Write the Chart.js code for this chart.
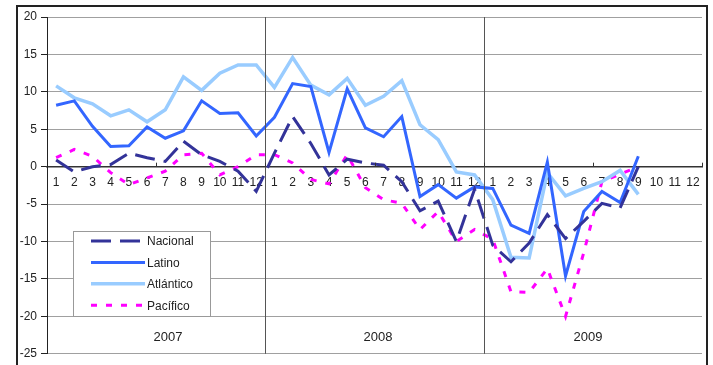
<!DOCTYPE html>
<html>
<head>
<meta charset="utf-8">
<script src="https://cdn.jsdelivr.net/npm/chart.js@4"></script>
<style>
  body { margin: 0; background: #ffffff; }
  #wrap { width: 713px; height: 365px; }
</style>
</head>
<body>
<div id="wrap"><canvas id="idChart" width="713" height="365"></canvas></div>
<script>
// Meses de cada año (eje X) y años del segundo nivel
var aMeses = ["1", "2", "3", "4", "5", "6", "7", "8", "9", "10", "11", "12"];
var aAnios = ["2007", "2008", "2009"];

// Variación por región, 2007-2009 (sep 2009 último dato)
var aNacional = [0.9, -0.7, 0.0, 0.3, 1.8, 1.2, 0.7, 3.4, 1.6, 0.7, -0.6, -3.3,
                 1.8, 6.7, 3.1, -1.1, 1.0, 0.5, 0.2, -2.0, -5.9, -4.6, -10.0, -3.0,
                 -10.5, -12.7, -10.2, -6.4, -9.6, -7.3, -4.9, -5.5, 0.0, null, null, null];
var aLatino = [8.2, 8.8, 5.4, 2.7, 2.8, 5.3, 3.8, 4.8, 8.8, 7.1, 7.2, 4.1,
               6.6, 11.1, 10.7, 1.9, 10.4, 5.2, 4.0, 6.7, -4.0, -2.4, -4.2, -2.7,
               -2.9, -7.8, -8.9, 0.6, -14.6, -6.0, -3.3, -4.8, 1.4, null, null, null];
var aAtlantico = [10.8, 9.2, 8.4, 6.8, 7.6, 6.0, 7.6, 12.0, 10.2, 12.5, 13.6, 13.6,
                  10.6, 14.6, 10.9, 9.6, 11.8, 8.2, 9.4, 11.5, 5.6, 3.6, -0.7, -1.1,
                  -4.4, -12.1, -12.2, -0.8, -3.9, -2.9, -2.0, -0.5, -3.7, null, null, null];
var aPacifico = [1.2, 2.3, 1.4, -0.8, -2.4, -1.5, -0.6, 1.6, 1.8, -1.1, 0.0, 1.6,
                 1.6, 0.5, -1.7, -2.3, 1.6, -2.8, -4.4, -4.9, -8.4, -6.0, -10.0, -8.4,
                 -9.7, -16.7, -16.8, -13.6, -20.0, -11.5, -2.0, -1.0, 0.0, null, null, null];

var aLabels = [];
aAnios.forEach(function () { aLabels = aLabels.concat(aMeses); });

var sFont = "'Liberation Sans', Arial, sans-serif";

var aSeries = [
    { label: "Nacional", data: aNacional, color: "#333399", dash: [20, 9], width: 3 },
    { label: "Latino", data: aLatino, color: "#3366FF", dash: [], width: 3 },
    { label: "Atlántico", data: aAtlantico, color: "#99CCFF", dash: [], width: 3.5 },
    { label: "Pacífico", data: aPacifico, color: "#FF00FF", dash: [6, 9], width: 3 }
];

// Marco, separadores de año, nombres de año y leyenda
var extrasPlugin = {
    id: "extras",
    beforeDraw: function (chart) {
        var ctx = chart.ctx;
        ctx.save();
        ctx.fillStyle = "#ffffff";
        ctx.fillRect(0, 0, chart.width, chart.height);
        ctx.restore();
    },
    afterDatasetsDraw: function (chart) {
        var ctx = chart.ctx;
        var x = chart.scales.x;
        var y = chart.scales.y;
        var area = chart.chartArea;
        var nMes = aMeses.length;
        var i;

        ctx.save();
        // lineas verticales entre años
        ctx.strokeStyle = "#555555";
        ctx.lineWidth = 1;
        for (i = 1; i < aAnios.length; i++) {
            var xs = Math.round((x.getPixelForTick(i * nMes - 1) + x.getPixelForTick(i * nMes)) / 2) + 0.5;
            ctx.beginPath();
            ctx.moveTo(xs, area.top);
            ctx.lineTo(xs, area.bottom);
            ctx.stroke();
        }

        // marcas cada seis meses sobre el eje
        var y0 = y.getPixelForValue(0);
        var half = (x.getPixelForTick(1) - x.getPixelForTick(0)) / 2;
        ctx.strokeStyle = "#333333";
        for (i = 6; i <= aLabels.length; i += 6) {
            var xt = Math.round(x.getPixelForTick(i - 1) + half) + 0.5;
            ctx.beginPath();
            ctx.moveTo(xt, y0 - 4);
            ctx.lineTo(xt, y0);
            ctx.stroke();
        }

        // nombres de los años (algo corridos respecto al centro de cada año)
        ctx.fillStyle = "#222222";
        ctx.font = "13px " + sFont;
        ctx.textAlign = "center";
        ctx.textBaseline = "middle";
        for (i = 0; i < aAnios.length; i++) {
            var xc = area.left + 121 + i * 210;
            ctx.fillText(aAnios[i], xc, 337);
        }

        // leyenda
        ctx.fillStyle = "#ffffff";
        ctx.fillRect(73, 231, 138, 86);
        ctx.strokeStyle = "#999999";
        ctx.lineWidth = 1;
        ctx.strokeRect(73.5, 231.5, 137, 85);
        ctx.font = "12px " + sFont;
        ctx.textAlign = "left";
        aSeries.forEach(function (s, k) {
            var yl = 241 + k * 21.4;
            ctx.strokeStyle = s.color;
            ctx.lineWidth = s.width;
            ctx.setLineDash(s.dash);
            ctx.beginPath();
            ctx.moveTo(91, yl);
            ctx.lineTo(145, yl);
            ctx.stroke();
            ctx.setLineDash([]);
            ctx.fillStyle = "#222222";
            ctx.fillText(s.label, 147, yl + 1);
        });

        // marco exterior
        ctx.strokeStyle = "#222222";
        ctx.lineWidth = 2;
        ctx.strokeRect(17, 6, 690, 400);
        ctx.restore();
    }
};

new Chart(document.getElementById("idChart"), {
    type: "line",
    data: {
        labels: aLabels,
        datasets: aSeries.map(function (s) {
            return {
                label: s.label,
                data: s.data,
                borderColor: s.color,
                backgroundColor: s.color,
                borderWidth: s.width,
                borderDash: s.dash,
                pointRadius: 0,
                tension: 0,
                fill: false
            };
        })
    },
    options: {
        responsive: false,
        animation: false,
        devicePixelRatio: 1,
        layout: { padding: { left: 0, right: 11, top: 17, bottom: 11 } },
        plugins: {
            legend: { display: false },
            tooltip: { enabled: false }
        },
        scales: {
            x: {
                position: { y: 0 },
                offset: true,
                grid: { display: false, drawTicks: true, tickLength: 8 },
                border: { display: true, color: "#333333", width: 1.5 },
                ticks: {
                    autoSkip: false,
                    maxRotation: 0,
                    padding: 1,
                    color: "#222222",
                    font: { family: sFont, size: 12 }
                }
            },
            y: {
                min: -25,
                max: 20,
                afterFit: function (scale) { scale.width = 47; },
                grid: { color: "#a0a0a0", tickColor: "#222222", tickLength: 6 },
                border: { display: true, color: "#222222", width: 1 },
                ticks: {
                    stepSize: 5,
                    padding: 4,
                    color: "#222222",
                    font: { family: sFont, size: 12 }
                }
            }
        }
    },
    plugins: [extrasPlugin]
});
</script>
</body>
</html>
